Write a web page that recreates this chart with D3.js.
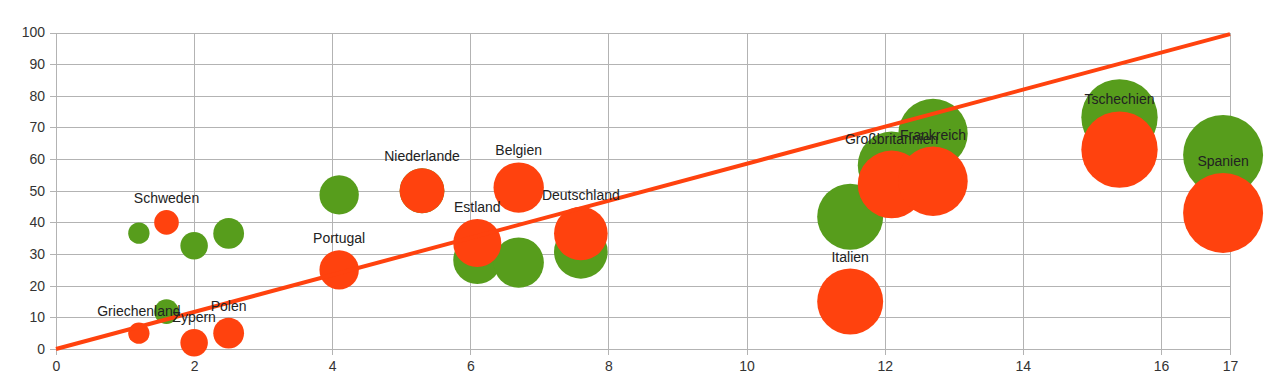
<!DOCTYPE html>
<html><head><meta charset="utf-8">
<script src="https://cdn.jsdelivr.net/npm/d3@7"></script>
<style>
html,body{margin:0;padding:0;background:#fff;}
svg{display:block;font-family:"Liberation Sans",Arial,sans-serif;}
</style></head>
<body><svg id="chart" width="1265" height="388"></svg>
<script>
// Data
const countries = ["Griechenland","Schweden","Zypern","Polen","Portugal","Niederlande","Estland","Belgien","Deutschland","Italien","Großbritannien","Frankreich","Tschechien","Spanien"];
const xValues   = [1.2, 1.6, 2.0, 2.5, 4.1, 5.3, 6.1, 6.7, 7.6, 11.5, 12.1, 12.7, 15.4, 16.9];
const greenY    = [36.6, 11.8, 32.6, 36.5, 48.7, 50, 28.1, 27.3, 30.7, 41.8, 58, 68.1, 73.2, 61.3];
const orangeY   = [5, 40, 2, 5, 25, 50, 33.5, 51, 36.5, 15, 52, 53, 63, 43];
const sizes     = [1.2, 1.6, 2.0, 2.5, 4.1, 5.3, 6.1, 6.7, 7.6, 11.5, 12.1, 12.7, 15.4, 16.9];
const trendX    = [0, 17];
const trendY    = [0, 99.5];
const xTicks    = [0, 2, 4, 6, 8, 10, 12, 14, 16, 17];
const yTicks    = [0, 10, 20, 30, 40, 50, 60, 70, 80, 90, 100];

const svg = d3.select("#chart");
const L = 56, R = 1230, T = 32.5, B = 349;
const x = d3.scaleLinear().domain([0, 17]).range([L, R]);
const y = d3.scaleLinear().domain([0, 100]).range([B, T]);
const r = d3.scaleSqrt().domain([0, 16.9]).range([0, 40]);

const gridColor = "#b3b3b3";
const textColor = "#333333";

// Y axis with gridlines
const yAxis = svg.append("g").attr("transform", `translate(${L - 6},0)`)
  .call(d3.axisLeft(y).tickValues(yTicks).tickSizeInner(-(R - L + 6)).tickSizeOuter(0).tickPadding(5));
yAxis.select(".domain").remove();
yAxis.selectAll("line").attr("stroke", gridColor).attr("shape-rendering", "crispEdges");
yAxis.selectAll("text").attr("fill", textColor).style("font-size", "14px");

// X axis with gridlines
const xAxis = svg.append("g").attr("transform", `translate(0,${B + 6})`)
  .call(d3.axisBottom(x).tickValues(xTicks).tickFormat(d3.format("d")).tickSizeInner(-(B + 6 - T)).tickSizeOuter(0).tickPadding(6));
xAxis.select(".domain").remove();
xAxis.selectAll("line").attr("stroke", gridColor).attr("shape-rendering", "crispEdges");
xAxis.selectAll("text").attr("fill", textColor).style("font-size", "14px");

const idx = d3.range(countries.length);
const green = "#579d1c", orange = "#ff420e";

svg.append("g").selectAll("circle").data(idx).join("circle")
  .attr("cx", i => x(xValues[i])).attr("cy", i => y(greenY[i])).attr("r", i => r(sizes[i]))
  .attr("fill", green);

svg.append("g").selectAll("circle").data(idx).join("circle")
  .attr("cx", i => x(xValues[i])).attr("cy", i => y(orangeY[i])).attr("r", i => r(sizes[i]))
  .attr("fill", orange);

// Trend line
svg.append("path")
  .datum(d3.zip(trendX, trendY))
  .attr("d", d3.line().x(d => x(d[0])).y(d => y(d[1])))
  .attr("stroke", orange).attr("stroke-width", 4).attr("fill", "none");

// Labels
svg.append("g").selectAll("text").data(idx).join("text")
  .attr("x", i => x(xValues[i]))
  .attr("y", i => y(orangeY[i]) - r(sizes[i]) - 7)
  .attr("text-anchor", "middle")
  .attr("fill", "#222")
  .style("font-size", "14px")
  .text(i => countries[i]);
</script>
</body></html>
